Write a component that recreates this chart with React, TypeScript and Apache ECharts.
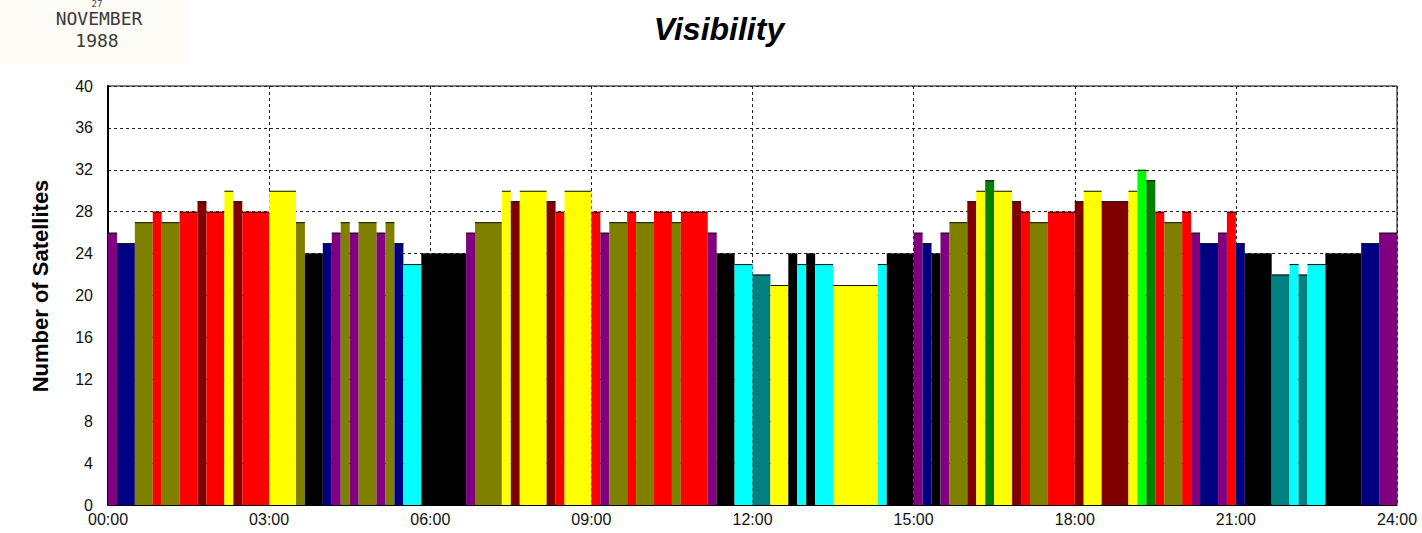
import React, { useEffect, useRef } from "react";
import * as echarts from "echarts";

// Start time of each visibility interval (HH:MM) and the satellite count during it
const startTimes = [
  "00:00", "00:10", "00:30", "00:50", "01:00", "01:20", "01:40", "01:50", "02:10", "02:20",
  "02:30", "03:00", "03:30", "03:40", "04:00", "04:10", "04:20", "04:30", "04:40", "05:00",
  "05:10", "05:20", "05:30", "05:50", "06:40", "06:50", "07:20", "07:30", "07:40", "08:10",
  "08:20", "08:30", "09:00", "09:10", "09:20", "09:40", "09:50", "10:10", "10:30", "10:40",
  "11:10", "11:20", "11:40", "12:00", "12:20", "12:40", "12:50", "13:00", "13:10", "13:30",
  "14:20", "14:30", "15:00", "15:10", "15:20", "15:30", "15:40", "16:00", "16:10", "16:20",
  "16:30", "16:50", "17:00", "17:10", "17:30", "18:00", "18:10", "18:30", "19:00", "19:10",
  "19:20", "19:30", "19:40", "20:00", "20:10", "20:20", "20:40", "20:50", "21:00", "21:10",
  "21:40", "22:00", "22:10", "22:20", "22:40", "23:20", "23:40",
];
const satCounts = [
  26, 25, 27, 28, 27, 28, 29, 28, 30, 29,
  28, 30, 27, 24, 25, 26, 27, 26, 27, 26,
  27, 25, 23, 24, 26, 27, 30, 29, 30, 29,
  28, 30, 28, 26, 27, 28, 27, 28, 27, 28,
  26, 24, 23, 22, 21, 24, 23, 24, 23, 21,
  23, 24, 26, 25, 24, 26, 27, 29, 30, 31,
  30, 29, 28, 27, 28, 29, 30, 29, 30, 32,
  31, 28, 27, 28, 26, 25, 26, 28, 25, 24,
  22, 23, 22, 23, 24, 25, 26,
];
const endTime = "24:00";
const xTickLabels = ["00:00", "03:00", "06:00", "09:00", "12:00", "15:00", "18:00", "21:00", "24:00"];
const titleText = "Visibility";
const yAxisTitle = "Number of Satellites";
const stampLines = ["27", "NOVEMBER", "1988"];

// colour used for each satellite count
const countColors: Record<number, string> = {
  21: "#FFFF00",
  22: "#008080",
  23: "#00FFFF",
  24: "#000000",
  25: "#000080",
  26: "#800080",
  27: "#808000",
  28: "#FF0000",
  29: "#800000",
  30: "#FFFF00",
  31: "#008000",
  32: "#00FF00",
};

const toHours = (t: string) => {
  const [h, m] = t.split(":").map(Number);
  return h + m / 60;
};

export default function App() {
  const ref = useRef<HTMLDivElement>(null);

  useEffect(() => {
    document.body.style.margin = "0";
    if (!ref.current) return;
    const chart = echarts.init(ref.current, undefined, { renderer: "svg" });

    const data = startTimes.map((s, i) => {
      const e = i + 1 < startTimes.length ? startTimes[i + 1] : endTime;
      return [toHours(s), toHours(e), satCounts[i]];
    });

    const labelFont = "'Liberation Sans', Arial, sans-serif";
    const stampFont = "18px 'DejaVu Sans Mono', monospace";

    chart.setOption({
      animation: false,
      backgroundColor: "#ffffff",
      grid: {
        left: 108,
        right: 25,
        top: 86,
        bottom: 28,
        show: true,
        borderColor: "#000",
        borderWidth: 1,
        backgroundColor: "transparent",
      },
      xAxis: {
        type: "value",
        min: 0,
        max: 24,
        interval: 3,
        axisLine: { show: true, lineStyle: { color: "#000", width: 1 } },
        axisTick: { show: false },
        axisLabel: {
          color: "#111",
          fontSize: 16,
          fontFamily: labelFont,
          margin: 6,
          formatter: (v: number) => xTickLabels[Math.round(v / 3)] ?? "",
        },
        splitLine: { show: true, lineStyle: { color: "#222", type: [3, 3], width: 1 } },
      },
      yAxis: {
        type: "value",
        min: 0,
        max: 40,
        interval: 4,
        axisLine: { show: true, lineStyle: { color: "#000", width: 2 } },
        axisTick: { show: false },
        axisLabel: {
          color: "#111",
          fontSize: 16,
          fontFamily: labelFont,
          margin: 15,
        },
        splitLine: { show: true, lineStyle: { color: "#222", type: [3, 3], width: 1 } },
      },
      series: [
        {
          type: "custom",
          encode: { x: [0, 1], y: 2 },
          data,
          renderItem: (params: any, api: any) => {
            const s = api.value(0);
            const e = api.value(1);
            const v = api.value(2);
            const p0 = api.coord([s, v]);
            const p1 = api.coord([e, 0]);
            return {
              type: "group",
              children: [
                {
                  type: "rect",
                  shape: { x: p0[0], y: p0[1], width: p1[0] - p0[0], height: p1[1] - p0[1] },
                  style: { fill: countColors[v] || "#888" },
                },
                {
                  type: "line",
                  shape: { x1: p0[0], y1: p0[1] + 0.5, x2: p1[0], y2: p0[1] + 0.5 },
                  style: { stroke: "#111", lineWidth: 1 },
                },
              ],
            };
          },
        },
      ],
      graphic: [
        {
          type: "rect",
          shape: { x: 0, y: 0, width: 190, height: 64 },
          style: { fill: "#fdfcf6" },
          z: -1,
        },
        {
          type: "text",
          x: 97,
          y: 4,
          style: {
            text: stampLines[0],
            fill: "#444",
            font: "9px 'DejaVu Sans Mono', monospace",
            textAlign: "center",
            textVerticalAlign: "middle",
          },
        },
        {
          type: "text",
          x: 99,
          y: 18,
          style: {
            text: stampLines[1],
            fill: "#3a3a3a",
            font: stampFont,
            textAlign: "center",
            textVerticalAlign: "middle",
          },
        },
        {
          type: "text",
          x: 97,
          y: 40,
          style: {
            text: stampLines[2],
            fill: "#3a3a3a",
            font: stampFont,
            textAlign: "center",
            textVerticalAlign: "middle",
          },
        },
        {
          type: "text",
          x: 719,
          y: 29,
          style: {
            text: titleText,
            fill: "#000",
            font: "italic bold 32px 'Liberation Sans', Arial, sans-serif",
            textAlign: "center",
            textVerticalAlign: "middle",
          },
        },
        {
          type: "text",
          x: 40,
          y: 286,
          rotation: Math.PI / 2,
          style: {
            text: yAxisTitle,
            fill: "#000",
            font: "bold 22px 'Liberation Sans', Arial, sans-serif",
            textAlign: "center",
            textVerticalAlign: "middle",
          },
        },
      ],
    });

    return () => chart.dispose();
  }, []);

  return <div ref={ref} style={{ width: 1422, height: 533 }} />;
}
